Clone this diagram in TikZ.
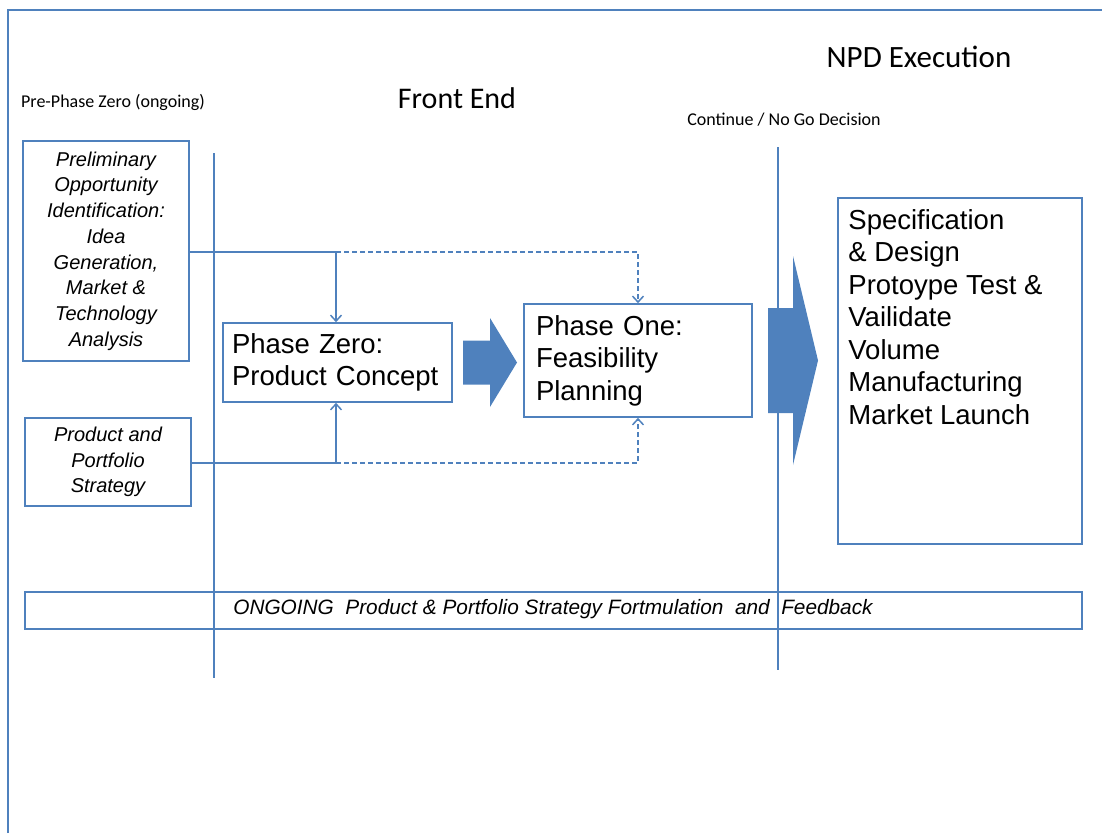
\documentclass[tikz,border=0pt]{standalone}
\usepackage{fontspec}
\setmainfont{Liberation Sans}
\newfontfamily\calibrifont{Carlito}
\usetikzlibrary{arrows.meta,positioning}
\definecolor{officeblue}{HTML}{4F81BD}
\def\smallfont{\fontsize{20}{25.7}\selectfont\itshape}
\def\bigfont{\fontsize{27.5}{32.5}\selectfont}
\def\blockarrow#1#2#3#4#5#6{%
  \fill [officeblue]
  (#1,#4-#5) -- (#2,#4-#5) -- (#2,#4-#6) -- (#3,#4)
  -- (#2,#4+#6) -- (#2,#4+#5) -- (#1,#4+#5) -- cycle;
}
\tikzset{
  box/.style = {draw=officeblue, line width=1.6pt, rectangle, inner sep=0pt},
  label/.style = {font=\calibrifont\fontsize{18}{20}\selectfont, inner sep=0pt},
  feed/.style = {draw=officeblue, line width=1.5pt, -{Straight Barb[length=6pt,width=11pt]}},
  feedline/.style = {draw=officeblue, line width=1.5pt},
  maybe/.style = {dash pattern=on 5pt off 3pt},
  divider/.style = {draw=officeblue, line width=1.5pt}
}
\begin{document}
\begin{tikzpicture}[x=1pt, y=-1pt]
  \useasboundingbox (0,0) rectangle (1102,833);

  % frame
  \draw [officeblue, line width=2.5pt] (8,833) -- (8,10) -- (1102,10);

  % headings
  \node [label] (prephase) at (113,102) {Pre-Phase Zero (ongoing)};
  \node [label, font=\calibrifont\fontsize{30}{32}\selectfont] (frontend) at (457,98) {Front End};
  \node [label, font=\calibrifont\fontsize{31}{33}\selectfont] (npd) at (919,57) {NPD Execution};
  \node [label] (decision) at (784,120) {Continue / No Go Decision};

  % dividers
  \coordinate (div1top) at (214,153);
  \coordinate (div1bot) at (214,678);
  \coordinate (div2top) at (778,147);
  \coordinate (div2bot) at (778,670);
  \draw [divider] (div1top) -- (div1bot);
  \draw [divider] (div2top) -- (div2bot);

  % pre-phase boxes
  \node [box, minimum width=166pt, minimum height=220pt, align=center, font=\smallfont]
    (prelim) at (106,251) {Preliminary\\Opportunity\\Identification:\\Idea\\Generation,\\Market \&\\Technology\\Analysis};
  \node [box, minimum width=166pt, minimum height=88pt, align=center, font=\smallfont]
    (strategy) at (108,462) {Product and\\Portfolio\\Strategy};

  % front end phases
  \node [box, minimum width=229pt, minimum height=79pt, text width=211pt, inner xsep=9pt,
    align=left, font=\bigfont] (phasezero) at (337.5,362.5) {Phase Zero:\\Product Concept};
  \node [box, minimum width=228pt, minimum height=113pt, text width=204pt, inner xsep=12pt,
    align=left, font=\bigfont] (phaseone) at (638,360.5) {Phase One:\\Feasibility\\Planning};

  % execution
  \node [box, minimum width=244pt, minimum height=346pt] (npdbox) at (960,371) {};
  \node [inner sep=0pt, align=left, font=\bigfont, below right=12pt and 11pt of npdbox.north west]
    (npdsteps) {Specification\\\& Design\\Protoype Test \&\\Vailidate\\Volume\\Manufacturing\\Market Launch};

  % ongoing
  \node [box, minimum width=1057pt, minimum height=37pt] (ongoing) at (553.5,610.5) {};
  \node [inner sep=0pt, font=\fontsize{20.8}{22}\selectfont\itshape] (ongoingtext) at (553,609)
    {ONGOING\ \ Product \& Portfolio Strategy Fortmulation\ \ and\ \ Feedback};

  % block arrows
  \blockarrow{463}{490}{517}{362.5}{22}{44.5}
  \blockarrow{768}{793}{818}{360.5}{52.5}{104.5}

  % feeds
  \coordinate (jtop) at (336,252);
  \coordinate (jbot) at (336,463);
  \path [feedline] (prelim.east |- jtop) -- (jtop);
  \path [feed] (jtop) -- (jtop |- phasezero.north);
  \path [feed, maybe] (jtop) -| (phaseone.north);
  \path [feedline] (strategy.east |- jbot) -- (jbot);
  \path [feed] (jbot) -- (jbot |- phasezero.south);
  \path [feed, maybe] (jbot) -| (phaseone.south);

\end{tikzpicture}
\end{document}
